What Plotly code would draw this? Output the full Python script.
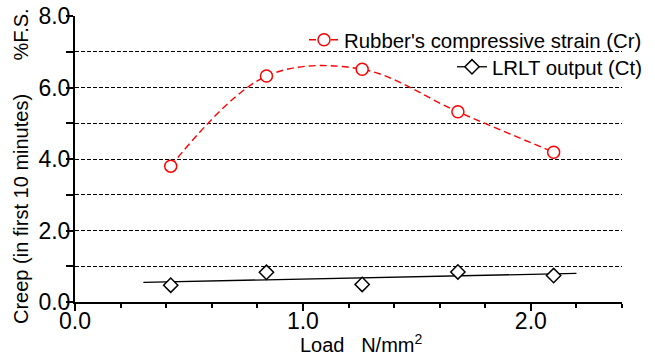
import plotly.graph_objects as go

# ---- data ----
load = [0.42, 0.84, 1.26, 1.68, 2.10]
rubber_strain = [3.80, 6.32, 6.51, 5.32, 4.19]
lrlt_output = [0.47, 0.83, 0.49, 0.84, 0.74]
trend_x = [0.30, 2.20]
trend_y = [0.55, 0.80]

x_tick_vals = [0.0, 1.0, 2.0]
x_tick_text = ["0.0", "1.0", "2.0"]
y_tick_vals = [0.0, 2.0, 4.0, 6.0, 8.0]
y_tick_text = ["0.0", "2.0", "4.0", "6.0", "8.0"]

FONT = "Liberation Sans, Arial, sans-serif"
W, H = 655, 355
L, R, T, B = 75, 33, 16, 53
PW, PH = W - L - R, H - T - B

def px_x(p):
    return (p - L) / PW

def px_y(p):
    return (H - B - p) / PH

GRID_DASH = "4px,2px"

fig = go.Figure()

# black trend line
fig.add_trace(go.Scatter(
    x=trend_x, y=trend_y, mode="lines",
    line=dict(color="black", width=1.3),
    showlegend=False, hoverinfo="skip"))

# LRLT diamonds
fig.add_trace(go.Scatter(
    x=load, y=lrlt_output, mode="markers",
    marker=dict(symbol="diamond", size=11, color="white",
                line=dict(color="black", width=1.5)),
    showlegend=False))

# legend-only entry for LRLT
fig.add_trace(go.Scatter(
    x=[None], y=[None], mode="lines+markers",
    name="LRLT output (Ct)",
    line=dict(color="black", width=1.3),
    marker=dict(symbol="diamond", size=11, color="white",
                line=dict(color="black", width=1.5)),
    legend="legend2"))

# Rubber compressive strain (red dashed smooth curve)
fig.add_trace(go.Scatter(
    x=load, y=rubber_strain, mode="lines+markers",
    name="Rubber's compressive strain (Cr)",
    line=dict(color="red", width=1.4, dash="7px,4px", shape="spline", smoothing=1.0),
    marker=dict(symbol="circle", size=12, color="white",
                line=dict(color="red", width=1.5)),
    legend="legend"))

fig.update_layout(
    width=W, height=H,
    margin=dict(l=L, r=R, t=T, b=B, autoexpand=False),
    paper_bgcolor="white", plot_bgcolor="white",
    font=dict(family=FONT, color="black"),
    xaxis=dict(
        range=[0, 2.4], tickmode="array", tickvals=x_tick_vals, ticktext=x_tick_text,
        showline=True, linecolor="black", linewidth=2,
        ticks="outside", ticklen=7, tickwidth=1.5, tickcolor="black",
        tickfont=dict(size=23, family=FONT),
        ticklabelstandoff=-10,
        minor=dict(tickmode="linear", tick0=0, dtick=0.2, ticks="outside",
                   ticklen=4, tickwidth=1.5, tickcolor="black", showgrid=False),
        showgrid=False, zeroline=False, fixedrange=True, automargin=False,
    ),
    xaxis2=dict(
        range=[0, 2.4], overlaying="x", anchor="y", side="bottom",
        tickmode="array", tickvals=x_tick_vals,
        showticklabels=False, showline=False, showgrid=False, zeroline=False,
        ticks="inside", ticklen=7, tickwidth=1.5, tickcolor="black",
        minor=dict(tickmode="linear", tick0=0, dtick=0.2, ticks="inside",
                   ticklen=4, tickwidth=1.5, tickcolor="black", showgrid=False),
    ),
    yaxis=dict(
        range=[0, 8], tickmode="array", tickvals=y_tick_vals, ticktext=y_tick_text,
        showline=True, linecolor="black", linewidth=2,
        ticks="outside", ticklen=7, tickwidth=1.5, tickcolor="black",
        tickfont=dict(size=23, family=FONT),
        ticklabelstandoff=-9,
        showgrid=True, gridcolor="black", gridwidth=1.2, griddash=GRID_DASH,
        minor=dict(tickmode="linear", tick0=1, dtick=2, ticks="outside",
                   ticklen=7, tickwidth=1.5, tickcolor="black",
                   showgrid=True, gridcolor="black", gridwidth=1.2, griddash=GRID_DASH),
        zeroline=False, fixedrange=True, automargin=False,
    ),
    legend=dict(x=px_x(647), y=px_y(40), xanchor="right", yanchor="middle",
                bgcolor="rgba(0,0,0,0)", font=dict(size=20.4, family=FONT),
                borderwidth=0),
    legend2=dict(x=px_x(647), y=px_y(67), xanchor="right", yanchor="middle",
                 bgcolor="rgba(0,0,0,0)", font=dict(size=20.4, family=FONT),
                 borderwidth=0),
    annotations=[
        dict(text="Creep (in first 10 minutes)" + "\u00a0" * 6 + "%F.S.",
             xref="paper", yref="paper", x=px_x(21), y=px_y(166),
             xanchor="center", yanchor="middle", textangle=-90,
             showarrow=False, font=dict(size=20, family=FONT)),
        dict(text="Load\u00a0\u00a0\u00a0N/mm<sup>2</sup>",
             xref="paper", yref="paper", x=px_x(361), y=px_y(343),
             xanchor="center", yanchor="middle",
             showarrow=False, font=dict(size=20, family=FONT)),
    ],
)

fig.write_html("out.html")
